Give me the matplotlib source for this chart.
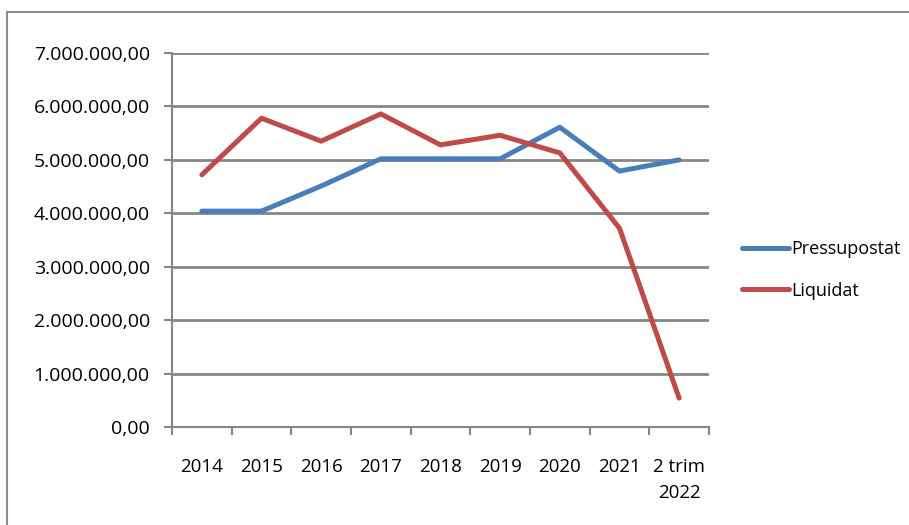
import matplotlib.pyplot as plt
from matplotlib.ticker import FuncFormatter, MultipleLocator
from matplotlib.patches import Rectangle

# Dades (euros)
anys = ["2014", "2015", "2016", "2017", "2018", "2019", "2020", "2021", "2 trim\n2022"]
pressupostat = [4040000, 4040000, 4510000, 5020000, 5020000, 5020000, 5610000, 4790000, 5000000]
liquidat = [4720000, 5780000, 5350000, 5860000, 5280000, 5460000, 5130000, 3720000, 540000]

plt.rcParams['font.family'] = ['Open Sans', 'DejaVu Sans']

fig = plt.figure(figsize=(9.09, 5.25), dpi=100)
fig.patches.append(Rectangle((7 / 909, -0.1), 1.1, 1 - 12 / 525 + 0.1, transform=fig.transFigure,
                             fill=False, edgecolor='#8c8c8c', linewidth=1.5))

ax = fig.add_axes([172 / 909, 1 - 427 / 525, (709 - 172) / 909, (427 - 53) / 525])

x = range(len(anys))
ax.plot(x, pressupostat, color='#4A7EBB', linewidth=3.6, solid_capstyle='round', label='Pressupostat')
ax.plot(x, liquidat, color='#BE4B48', linewidth=3.6, solid_capstyle='round', label='Liquidat')

ax.set_xlim(-0.5, len(anys) - 0.5)
ax.set_ylim(0, 7000000)
ax.yaxis.set_major_locator(MultipleLocator(1000000))
ax.yaxis.set_major_formatter(FuncFormatter(
    lambda v, p: f"{v:,.2f}".replace(",", "X").replace(".", ",").replace("X", ".")))

ax.set_xticks([i - 0.5 for i in range(len(anys) + 1)])
ax.set_xticklabels([])
ax.set_xticks(list(x), minor=True)
ax.set_xticklabels(anys, minor=True, fontsize=13.5, linespacing=1.6)
ax.tick_params(axis='x', which='minor', length=0, pad=22)
ax.tick_params(axis='x', which='major', length=6, width=1.5, color='#868686')
ax.tick_params(axis='y', length=6, width=1.5, color='#868686', labelsize=14, pad=10)

ax.grid(axis='y', color='#868686', linewidth=2)
ax.set_axisbelow(True)
for s in ['top', 'right']:
    ax.spines[s].set_visible(False)
for s in ['left', 'bottom']:
    ax.spines[s].set_color('#868686')
    ax.spines[s].set_linewidth(1.5)

fig.legend(loc='center left', bbox_to_anchor=(726 / 909, 1 - 270 / 525), frameon=False,
           fontsize=13, handlelength=2.6, handletextpad=0.1, labelspacing=1.3)

fig.savefig('out.png', dpi=100)
